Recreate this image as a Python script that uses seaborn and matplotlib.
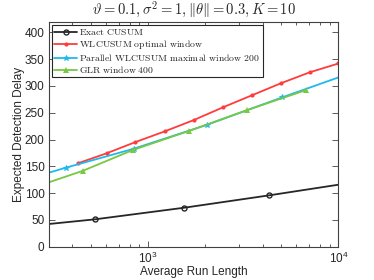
"""Expected detection delay vs average run length for CUSUM variants."""

import matplotlib

matplotlib.use("Agg")
import matplotlib.pyplot as plt
import numpy as np
import seaborn as sns
from matplotlib.legend_handler import HandlerLine2D
from matplotlib.lines import Line2D
from matplotlib.ticker import LogLocator, NullFormatter

# values
cusum_arl = [300, 524, 1552, 4335, 10000]
cusum_edd = [42.3, 51.0, 72.8, 95.9, 115.7]
cusum_marks = [1, 2, 3]

wl_arl = [427, 605, 858, 1223, 1738, 2466, 3532, 4977, 7047, 10000]
wl_edd = [155.6, 174.3, 195.3, 215.3, 236.4, 260.0, 283.0, 305.0, 325.4, 342.0]

par_arl = [300, 369, 839, 2042, 5058, 10000]
par_edd = [138.0, 147.4, 182.8, 227.6, 278.7, 316.0]
par_marks = [1, 2, 3, 4]

glr_arl = [300, 455, 830, 1649, 3311, 6761]
glr_edd = [120.0, 141.8, 180.4, 216.4, 255.0, 292.4]
glr_marks = [1, 2, 3, 4, 5]

labels = [
    r"$\mathrm{Exact\ CUSUM}$",
    r"$\mathrm{WLCUSUM\ optimal\ window}$",
    r"$\mathrm{Parallel\ WLCUSUM\ maximal\ window\ 200}$",
    r"$\mathrm{GLR\ window\ 400}$",
]
title = r"$\vartheta = 0.1, \sigma^2 = 1, \|\theta\| = 0.3, K = 10$"

sns.set_theme(style="ticks")
plt.rcParams["font.family"] = ["Liberation Sans", "DejaVu Sans"]
plt.rcParams["mathtext.fontset"] = "cm"
plt.rcParams["axes.edgecolor"] = "#404040"
plt.rcParams["xtick.color"] = "#404040"
plt.rcParams["ytick.color"] = "#404040"

fig = plt.figure(figsize=(3.74, 2.8), dpi=100)
ax = fig.add_axes([0.130, 0.119, 0.775, 0.8035])

series = [
    (cusum_arl, cusum_edd, cusum_marks, "#262626", dict(marker="o", ms=3.6, mfc="none", mew=1.0)),
    (wl_arl, wl_edd, None, "#FF3B3B", dict(marker="o", ms=3, mew=0)),
    (par_arl, par_edd, par_marks, "#1EB9EE", dict(marker="*", ms=4, mew=0.6)),
    (glr_arl, glr_edd, glr_marks, "#77C843", dict(marker="^", ms=5, mew=0)),
]
for (x, y, marks, color, mk), label in zip(series, labels):
    sns.lineplot(x=x, y=y, ax=ax, color=color, lw=1.3, markevery=marks,
                 mec=color, label=label, errorbar=None, estimator=None, **mk)

ax.set_xscale("log")
ax.set_xlim(300, 10000)
ax.set_ylim(0, 420)
ax.set_yticks(np.arange(0, 401, 50))
ax.xaxis.set_minor_locator(LogLocator(base=10, subs=np.arange(2, 10)))
ax.xaxis.set_minor_formatter(NullFormatter())
ax.tick_params(which="both", direction="in", top=True, right=True,
               labelsize=8.5, labelcolor="#262626", width=0.6)
ax.tick_params(which="major", length=4.5, pad=3)
ax.tick_params(which="minor", length=2.5)
for sp in ax.spines.values():
    sp.set_linewidth(0.8)

ax.set_xlabel("Average Run Length", fontsize=8.5, color="#262626", labelpad=0)
ax.set_ylabel("Expected Detection Delay", fontsize=8.5, color="#262626", labelpad=0)
ax.set_title(title, fontsize=10.5, pad=5)


def legend_prop(h, orig):
    h.update_from(orig)
    h.set_markevery([1])


leg = ax.legend(loc="upper left", fontsize=7, frameon=True, fancybox=False,
                edgecolor="#262626", framealpha=1, borderaxespad=0.3,
                handlelength=2.4, handletextpad=0.2, labelspacing=0.1,
                borderpad=0.25, numpoints=1,
                handler_map={Line2D: HandlerLine2D(update_func=legend_prop)})
leg.get_frame().set_linewidth(0.8)

fig.savefig("out.png", dpi=100)
